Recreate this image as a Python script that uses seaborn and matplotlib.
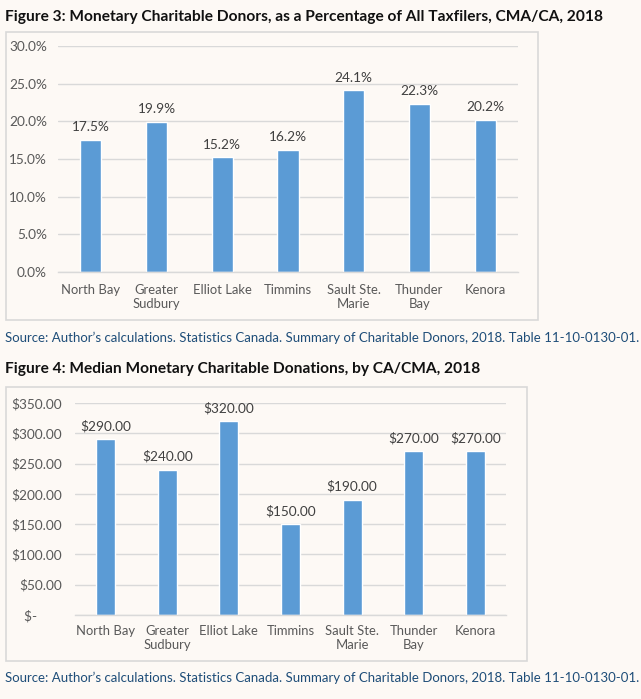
import matplotlib
matplotlib.use("Agg")
import matplotlib.pyplot as plt
import seaborn as sns
import pandas as pd
from matplotlib.patches import Rectangle

cities = ["North Bay", "Greater\nSudbury", "Elliot Lake", "Timmins",
          "Sault Ste.\nMarie", "Thunder\nBay", "Kenora"]
donor_pct = [17.5, 19.9, 15.2, 16.2, 24.1, 22.3, 20.2]
median_don = [290, 240, 320, 150, 190, 270, 270]
pct_ticks = [0, 5, 10, 15, 20, 25, 30]
dollar_ticks = [0, 50, 100, 150, 200, 250, 300, 350]

title3 = "Figure 3: Monetary Charitable Donors, as a Percentage of All Taxfilers, CMA/CA, 2018"
title4 = "Figure 4: Median Monetary Charitable Donations, by CA/CMA, 2018"
source = "Source: Author\u2019s calculations. Statistics Canada. Summary of Charitable Donors, 2018. Table 11-10-0130-01."

sns.set_theme(style="white")
plt.rcParams['font.family'] = ['Lato', 'DejaVu Sans']

W, H = 641, 699
BG = "#fdf9f5"
BAR = "#5b9bd5"
GRID = "#d9d9d9"
TXT = "#595959"

fig = plt.figure(figsize=(W / 100, H / 100), dpi=100, facecolor=BG)

def fx(x):
    return x / W

def fy(y):
    return 1 - y / H

def add_box(x0, y0, x1, y1):
    fig.patches.append(Rectangle((fx(x0), fy(y1)), fx(x1) - fx(x0), fy(y0) - fy(y1),
                                 transform=fig.transFigure, facecolor="none",
                                 edgecolor=GRID, linewidth=1.2, zorder=-5))

def make_axes(x0, y0, x1, y1):
    ax = fig.add_axes([fx(x0), fy(y1), fx(x1) - fx(x0), fy(y0) - fy(y1)])
    ax.patch.set_alpha(0)
    return ax

def style_axes(ax, ticks, ticklabels, ypad, xpad):
    ax.set_yticks(ticks)
    ax.set_yticklabels(ticklabels)
    ax.yaxis.grid(True, color=GRID, linewidth=1)
    ax.set_axisbelow(True)
    for s in ["top", "right", "left"]:
        ax.spines[s].set_visible(False)
    ax.spines["bottom"].set_color(GRID)
    ax.spines["bottom"].set_linewidth(1)
    ax.tick_params(axis="y", length=0, labelsize=9.8, colors=TXT, pad=ypad)
    ax.tick_params(axis="x", length=0, labelsize=9.4, colors=TXT, pad=xpad)
    ax.set_xlabel("")
    ax.set_ylabel("")

# Figure 3
fig.text(fx(5), fy(17), title3, fontsize=11.2, fontweight="bold", color="#111111",
         va="center", ha="left")
add_box(6, 32, 538, 320)
ax1 = make_axes(58, 46, 518, 272)
df1 = pd.DataFrame({"city": cities, "val": donor_pct})
sns.barplot(data=df1, x="city", y="val", color=BAR, saturation=1, width=0.32, ax=ax1)
ax1.set_ylim(0, 30)
style_axes(ax1, pct_ticks, [f"{t:.1f}%" for t in pct_ticks], ypad=8, xpad=9)
for i, v in enumerate(donor_pct):
    ax1.annotate(f"{v:.1f}%", (i, v), xytext=(0, 5), textcoords="offset points",
                 ha="center", va="bottom", fontsize=9.8, color="#404040")
fig.text(fx(5), fy(338), source, fontsize=9.5, color="#1f4e79", va="center", ha="left")

# Figure 4
fig.text(fx(5), fy(369), title4, fontsize=11.2, fontweight="bold", color="#111111",
         va="center", ha="left")
add_box(6, 387, 527, 661)
ax2 = make_axes(75, 403, 506, 615)
df2 = pd.DataFrame({"city": cities, "val": median_don})
sns.barplot(data=df2, x="city", y="val", color=BAR, saturation=1, width=0.31, ax=ax2)
ax2.set_ylim(0, 350)
style_axes(ax2, dollar_ticks,
           ["$-" + "\u00a0" * 7 if t == 0 else f"${t:,.2f}" for t in dollar_ticks],
           ypad=9.5, xpad=7)
for i, v in enumerate(median_don):
    ax2.annotate(f"${v:,.2f}", (i, v), xytext=(0, 5), textcoords="offset points",
                 ha="center", va="bottom", fontsize=9.8, color="#404040")
fig.text(fx(5), fy(678), source, fontsize=9.5, color="#1f4e79", va="center", ha="left")

fig.savefig("out.png", dpi=100, facecolor=BG)
